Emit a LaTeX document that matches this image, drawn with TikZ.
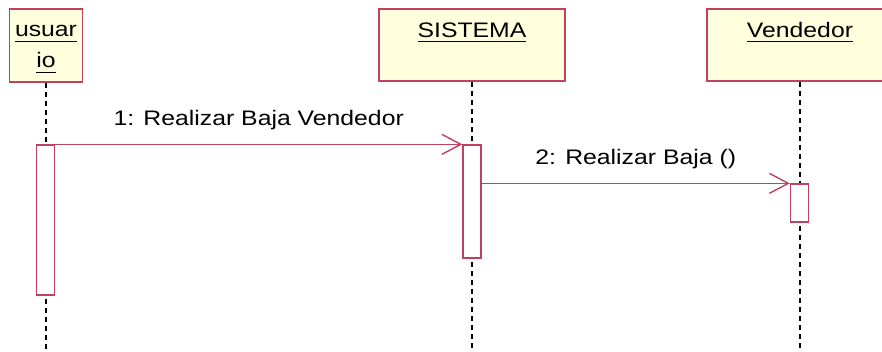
\documentclass[tikz,border=0pt]{standalone}
\usepackage{fontspec}
\setmainfont[FakeStretch=1.18]{Liberation Sans}
\usetikzlibrary{arrows.meta}
\definecolor{umlred}{RGB}{192,64,96}
\definecolor{umlfill}{RGB}{255,255,221}
\newcommand{\ulin}[1]{\setbox0\hbox{#1}\rlap{\rule[-5pt]{\wd0}{1.3pt}}\box0}
\tikzset{
  head/.style={draw=umlred, fill=umlfill, line width=1.3pt, minimum height=72pt, inner sep=0pt},
  headlbl/.style={font=\fontsize{21}{31}\selectfont, align=center, inner sep=0pt, anchor=base, yshift=-29pt},
  act/.style={draw=umlred, fill=white, line width=1.3pt, minimum width=18pt, inner sep=0pt},
  life/.style={dash pattern=on 5pt off 4pt, line width=1.3pt},
  msg/.style={-{Straight Barb[length=19pt, width=20pt]}, draw=umlred, line width=1.4pt},
  msglbl/.style={font=\fontsize{21}{25}\selectfont, inner sep=0pt, anchor=base, yshift=19pt},
}

\begin{document}
\begin{tikzpicture}[x=1pt, y=-1pt]
    \useasboundingbox (0,0) rectangle (882,351);
    % object heads
    \node[head, minimum width=73pt, minimum height=73pt] (usr) at (46,45.5) {};
    \node[headlbl, yshift=-30.5pt] at (usr.north) {\ulin{usuar}\\\ulin{io}};
    \node[head, minimum width=186pt] (sis) at (472,45) {};
    \node[headlbl] at (sis.north) {\ulin{SISTEMA}};
    \node[head, minimum width=186pt] (ven) at (800,45) {};
    \node[headlbl] at (ven.north) {\ulin{Vendedor}};
    \coordinate (bot) at (0,351);
    % lifelines
    \draw[life] (usr.south) -- (usr.south |- bot);
    \draw[life] (sis.south) -- (sis.south |- bot);
    \draw[life] (ven.south) -- (ven.south |- bot);
    % activations
    \node[act, minimum height=150pt] (ua) at (45.5,220) {};
    \node[act, minimum height=113pt] (sa) at (472,201.5) {};
    \node[act, minimum height=38pt] (va) at (799.5,203) {};
    % messages
    \draw[msg] (ua.north east) -- (sa.north west) node[msglbl, midway]{1: Realizar Baja Vendedor};
    \draw[msg] (sa.east |- va.north) -- (va.north west) node[msglbl, midway]{2: Realizar Baja ()};
  \end{tikzpicture}
\end{document}
